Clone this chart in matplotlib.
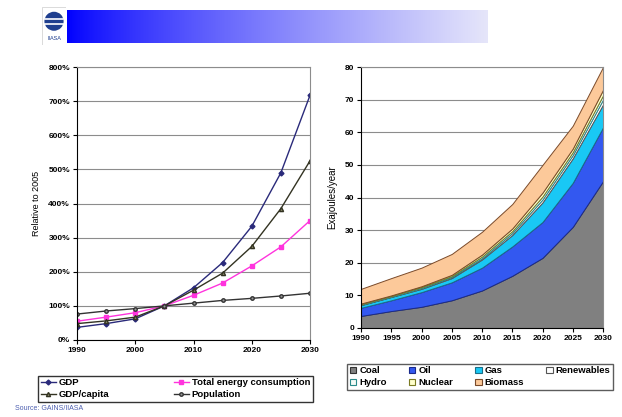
import matplotlib
matplotlib.use("Agg")
import matplotlib.pyplot as plt
from matplotlib.patches import Circle, Rectangle
import numpy as np

plt.rcParams['font.family'] = ['Liberation Sans', 'DejaVu Sans']

# Drivers, relative to 2005 (%)
years = [1990, 1995, 2000, 2005, 2010, 2015, 2020, 2025, 2030]
gdp = [37, 48, 62, 100, 153, 227, 333, 490, 717]
gdp_capita = [48, 56, 67, 100, 146, 196, 274, 385, 525]
energy = [55, 67, 80, 100, 131, 167, 217, 273, 350]
population = [76, 85, 92, 100, 108, 116, 122, 129, 137]

# Primary energy by fuel (EJ/year)
coal = [3.7, 5.2, 6.5, 8.5, 11.5, 16.0, 21.5, 31.0, 45.0]
oil = [2.5, 3.3, 4.5, 5.5, 7.0, 9.0, 11.0, 13.5, 16.5]
gas = [0.8, 1.0, 1.0, 1.3, 2.5, 3.5, 6.0, 7.5, 7.0]
renewables = [0.1, 0.1, 0.2, 0.3, 0.4, 0.6, 0.9, 1.0, 1.5]
hydro = [0.2, 0.2, 0.3, 0.3, 0.5, 0.6, 0.9, 0.9, 1.3]
nuclear = [0.2, 0.2, 0.3, 0.4, 0.6, 0.8, 1.2, 1.1, 1.7]
biomass = [4.5, 5.3, 5.7, 6.4, 7.0, 7.5, 8.5, 7.0, 7.0]

fuel_names = ['Coal', 'Oil', 'Gas', 'Renewables', 'Hydro', 'Nuclear', 'Biomass']
fuel_colors = ['#808080', '#3358f0', '#19c8f5', '#ffffff', '#f4fbf6',
               '#ffffcc', '#fcc99a']
fuel_edges = ['#333333', '#1a2a8c', '#1a6f88', '#555555', '#2a8a8a',
              '#7a7a22', '#7a4a2a']

W, H = 622, 417
fig = plt.figure(figsize=(W / 100, H / 100), dpi=100)


def fig_box(x0, y0, x1, y1):
    return [x0 / W, 1 - y1 / H, (x1 - x0) / W, (y1 - y0) / H]


def row_major(items, ncol):
    # legend fills column by column; reorder so entries read across rows
    nrow = -(-len(items) // ncol)
    return [items[r * ncol + c] for c in range(ncol) for r in range(nrow)
            if r * ncol + c < len(items)]


# banner: gradient bar plus logo
bar = fig.add_axes(fig_box(67, 10, 488, 43))
grad = np.linspace(0, 1, 256)[None, :]
start = np.array([0.0, 0.0, 1.0])
end = np.array([0.90, 0.90, 0.98])
rgb = start[None, None, :] + (end - start)[None, None, :] * grad[..., None] ** 0.8
bar.imshow(rgb, aspect='auto', extent=[0, 1, 0, 1])
bar.axis('off')

logo = fig.add_axes(fig_box(42, 7, 66, 45))
logo.set_xlim(0, 1)
logo.set_ylim(0, 1.6)
logo.add_patch(Rectangle((0, 0), 1, 1.6, facecolor='white',
                         edgecolor='#cccccc', lw=0.5))
logo.add_patch(Circle((0.5, 1.0), 0.4, facecolor='#1f3f8f', edgecolor='none'))
for yy in (0.9, 1.08):
    logo.plot([0.12, 0.88], [yy, yy], color='white', lw=1.2)
logo.text(0.5, 0.28, 'IIASA', ha='center', va='center', fontsize=4,
          color='#1f3f8f')
logo.axis('off')

tick_kw = dict(labelsize=6, length=3, width=0.8, direction='out', pad=2)

# left panel: drivers
ax1 = fig.add_axes(fig_box(77, 67, 310, 340))
ax1.plot(years, gdp, color='#2a2a7a', marker='D', ms=2.5, lw=1,
         label='GDP')
ax1.plot(years, energy, color='#ff33dd', marker='s', ms=2.5, lw=1,
         label='Total energy consumption')
ax1.plot(years, gdp_capita, color='#333322', marker='^', ms=3, lw=1,
         mfc='#888866', label='GDP/capita')
ax1.plot(years, population, color='#333333', marker='o', ms=2.5, lw=1,
         mfc='#999999', label='Population')
ax1.set_xlim(1990, 2030)
ax1.set_ylim(0, 800)
ax1.set_xticks([1990, 2000, 2010, 2020, 2030])
ax1.set_yticks(range(0, 801, 100))
ax1.set_yticklabels(['%d%%' % v for v in range(0, 801, 100)])
ax1.yaxis.grid(True, color='#8c8c8c', lw=0.8)
ax1.set_axisbelow(True)
ax1.tick_params(**tick_kw)
for lab in ax1.get_xticklabels() + ax1.get_yticklabels():
    lab.set_fontweight('bold')
ax1.set_ylabel('Relative to 2005', fontsize=6.5, labelpad=5)
for side in ('top', 'right'):
    ax1.spines[side].set_color('#8c8c8c')
for side in ('left', 'bottom'):
    ax1.spines[side].set_linewidth(0.8)

h1, l1 = ax1.get_legend_handles_labels()
leg1 = fig.legend(row_major(h1, 2), row_major(l1, 2), loc='lower left',
                  bbox_to_anchor=fig_box(38, 368, 313, 402), mode='expand',
                  ncol=2, fontsize=6.8, frameon=True, fancybox=False,
                  borderpad=0.3, labelspacing=0.3, handlelength=1.6,
                  handletextpad=0.3, borderaxespad=0)
leg1.get_frame().set_edgecolor('black')
leg1.get_frame().set_linewidth(1)
for t in leg1.get_texts():
    t.set_fontweight('bold')

# right panel: stacked primary energy
ax2 = fig.add_axes(fig_box(361, 67, 603, 328))
layers = ax2.stackplot(years, coal, oil, gas, renewables, hydro, nuclear,
                       biomass, labels=fuel_names, colors=fuel_colors)
for poly, ec in zip(layers, fuel_edges):
    poly.set_edgecolor(ec)
    poly.set_linewidth(0.7)
ax2.set_xlim(1990, 2030)
ax2.set_ylim(0, 80)
ax2.set_xticks(years)
ax2.set_yticks(range(0, 81, 10))
ax2.yaxis.grid(True, color='#8c8c8c', lw=0.8)
ax2.set_axisbelow(True)
ax2.tick_params(**tick_kw)
for lab in ax2.get_xticklabels() + ax2.get_yticklabels():
    lab.set_fontweight('bold')
ax2.set_ylabel('Exajoules/year', fontsize=7, labelpad=5)
for side in ('top', 'right'):
    ax2.spines[side].set_color('#8c8c8c')
for side in ('left', 'bottom'):
    ax2.spines[side].set_linewidth(0.8)

handles = [Rectangle((0, 0), 1, 1, facecolor=fc, edgecolor=ec, lw=0.8)
           for fc, ec in zip(fuel_colors, fuel_edges)]
leg2 = fig.legend(row_major(handles, 4), row_major(fuel_names, 4),
                  loc='lower left',
                  bbox_to_anchor=fig_box(347, 360, 613, 390), mode='expand',
                  ncol=4, fontsize=6.8, frameon=True, fancybox=False,
                  borderpad=0.3, labelspacing=0.3, handlelength=0.7,
                  handleheight=0.7, handletextpad=0.3, borderaxespad=0)
leg2.get_frame().set_edgecolor('#333333')
leg2.get_frame().set_linewidth(1)
for t in leg2.get_texts():
    t.set_fontweight('bold')

fig.text(15 / W, 1 - 409 / H, 'Source: GAINS/IIASA', fontsize=5,
         color='#4d5fb0', va='center')

fig.savefig('out.png', dpi=100)
